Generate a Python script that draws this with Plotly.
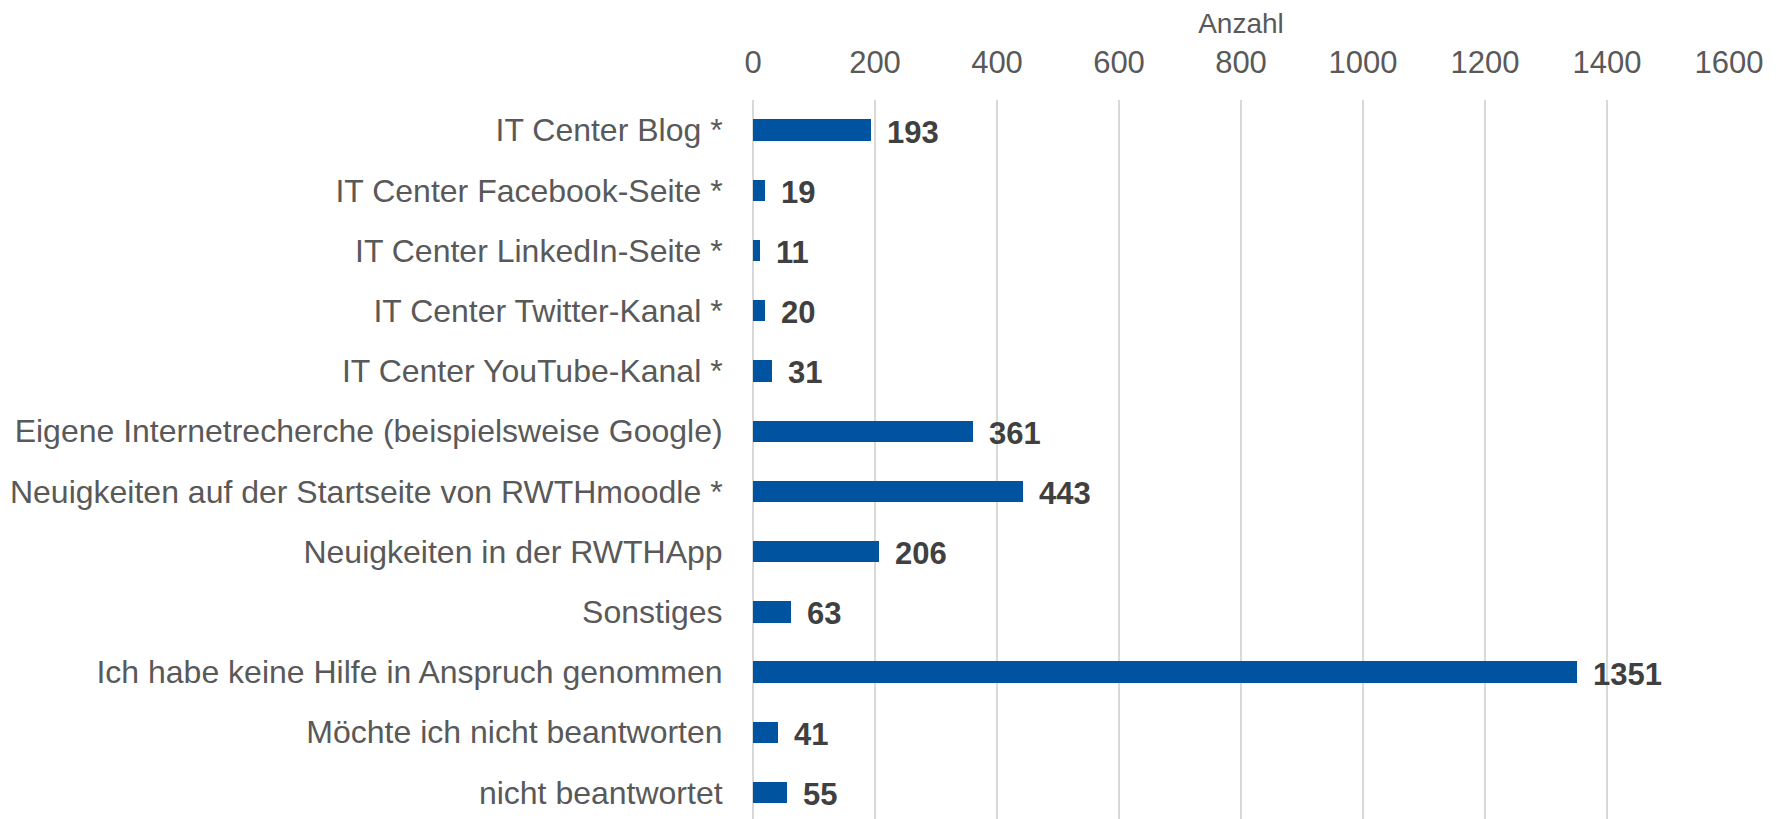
import plotly.graph_objects as go

categories = [
    "IT Center Blog *",
    "IT Center Facebook-Seite *",
    "IT Center LinkedIn-Seite *",
    "IT Center Twitter-Kanal *",
    "IT Center YouTube-Kanal *",
    "Eigene Internetrecherche (beispielsweise Google)",
    "Neuigkeiten auf der Startseite von RWTHmoodle *",
    "Neuigkeiten in der RWTHApp",
    "Sonstiges",
    "Ich habe keine Hilfe in Anspruch genommen",
    "Möchte ich nicht beantworten",
    "nicht beantwortet",
]
values = [193, 19, 11, 20, 31, 361, 443, 206, 63, 1351, 41, 55]
x_ticks = [0, 200, 400, 600, 800, 1000, 1200, 1400, 1600]
axis_title = "Anzahl"

FONT = "Arial, 'Liberation Sans', sans-serif"
BLUE = "#00549F"
GRID = "#D9D9D9"
TXT = "#595959"

fig = go.Figure()
fig.add_trace(go.Bar(
    x=values, y=categories, orientation="h",
    marker=dict(color=BLUE, line=dict(width=0)),
    width=0.355, hoverinfo="x+y",
))

for c, v in zip(categories, values):
    fig.add_annotation(
        x=v, y=c, text=f"<b>{v}</b>", showarrow=False,
        xanchor="left", yanchor="middle", xshift=14, yshift=-2,
        font=dict(family=FONT, size=31, color="#404040"),
    )

# page body has an 8px default margin: figure is sized to fill the rest of the window
fig.update_layout(
    width=1775, height=811,
    margin=dict(l=745, r=54, t=92, b=0),
    plot_bgcolor="white", paper_bgcolor="white",
    showlegend=False,
    font=dict(family=FONT, color=TXT),
    bargap=0,
)
fig.update_xaxes(
    side="top", range=[0, 1600], tickvals=x_ticks,
    tickfont=dict(family=FONT, size=31, color=TXT),
    showgrid=True, gridcolor=GRID, gridwidth=1.5,
    zeroline=True, zerolinecolor=GRID, zerolinewidth=1.5,
    showline=False,
    ticks="outside", ticklen=14, tickcolor="rgba(0,0,0,0)",
    title=dict(text=axis_title, font=dict(family=FONT, size=28, color=TXT), standoff=6),
)
fig.update_yaxes(
    type="category", range=[11.44, -0.5],
    tickfont=dict(family=FONT, size=32, color=TXT),
    showgrid=False, showline=False, zeroline=False,
    ticks="outside", ticklen=23, tickcolor="rgba(0,0,0,0)",
)

fig.write_html("out.html")
